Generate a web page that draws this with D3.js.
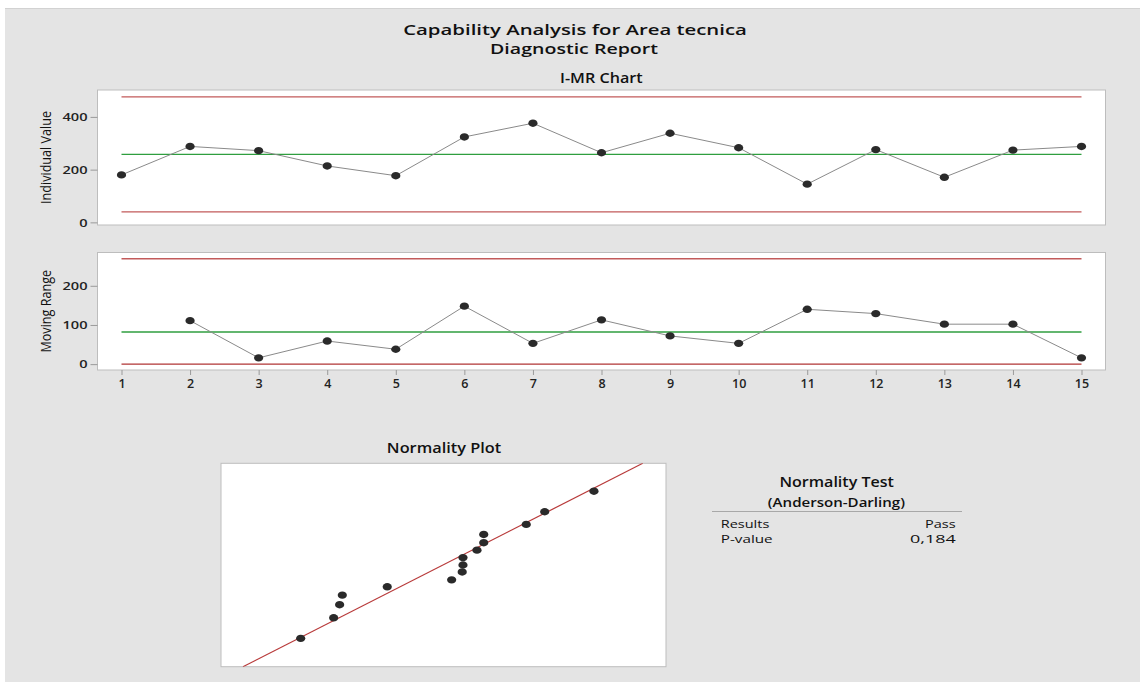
<!DOCTYPE html>
<html>
<head>
<meta charset="utf-8">
<script src="https://cdn.jsdelivr.net/npm/d3@7"></script>
<style>
  html, body { margin: 0; padding: 0; background: #ffffff; }
  svg { display: block; font-family: "Open Sans", "Noto Sans", sans-serif; }
</style>
</head>
<body>
<svg id="chart" width="1140" height="682"></svg>
<script>
// ---------- data ----------
const observationLabels = [1, 2, 3, 4, 5, 6, 7, 8, 9, 10, 11, 12, 13, 14, 15];
const individualValues = [180, 288, 272, 214, 177, 324, 376, 264, 338, 283, 145, 276, 171, 274, 288];
const movingRanges = [null, 111, 16, 59, 38, 148, 53, 113, 72, 53, 140, 129, 102, 102, 16];
const individualLimits = [39.6, 257.9, 476.2];   // LCL, CL, UCL
const movingRangeLimits = [0, 82, 269];           // LCL, CL, UCL
const individualTicks = [0, 200, 400];
const movingRangeTicks = [0, 100, 200];
const normalityValues = [145.3, 171.2, 175.9, 178.0, 213.3, 263.9, 272.2, 272.8, 272.8, 283.8, 289.1, 289.1, 322.5, 337.0, 375.7];
const normalityScores = [-1.68, -1.21, -0.91, -0.69, -0.50, -0.34, -0.16, 0, 0.17, 0.34, 0.51, 0.70, 0.93, 1.22, 1.69];
const normalFit = [257, 67.4];                    // mean, standard deviation
const testRows = [["Results", "Pass"], ["P-value", "0,184"]];

// ---------- drawing ----------
const svg = d3.select("#chart");
const RED = "#c25a5a", GREEN = "#2f9e3f", GREY = "#8a8a8a", DOT = "#2a2a2a";

// text whose glyphs are stretched horizontally to a given width (the reference is stretched)
function fitText(parent, str, x, y, width, anchor, size, weight) {
  const t = parent.append("text").attr("font-size", size).attr("font-weight", weight)
    .attr("fill", "#111").attr("text-anchor", anchor).text(str);
  const w = t.node().getComputedTextLength();
  const sx = w > 0 ? width / w : 1;
  t.attr("transform", `translate(${x},${y}) scale(${sx},1)`);
  return t;
}

svg.append("rect").attr("x", 5).attr("y", 8).attr("width", 1135).attr("height", 674).attr("fill", "#e4e4e4");
svg.append("line").attr("x1", 5).attr("x2", 1140).attr("y1", 8.5).attr("y2", 8.5).attr("stroke", "#d2d2d2");

fitText(svg, "Capability Analysis for Area tecnica", 575, 34.5, 344, "middle", 14.5, 600);
fitText(svg, "Diagnostic Report", 574, 53.5, 168, "middle", 14.5, 600);
fitText(svg, "I-MR Chart", 601.3, 83, 82.7, "middle", 13.5, 600);

const x = d3.scaleLinear().domain([0.65, 15.35]).range([97.5, 1105.5]);
const YLAB_SX = 1.27;

function controlPanel(top, bottom, domain, values, limits, ticks, title, showX) {
  const y = d3.scaleLinear().domain(domain).range([bottom, top]);
  const g = svg.append("g");
  g.append("rect").attr("x", x.range()[0]).attr("y", top)
    .attr("width", x.range()[1] - x.range()[0]).attr("height", bottom - top)
    .attr("fill", "#fff").attr("stroke", "#bdbdbd").attr("stroke-width", 1);

  // y axis
  const ya = g.append("g").attr("transform", `translate(${x.range()[0]},0)`)
    .call(d3.axisLeft(y).tickValues(ticks).tickSize(7).tickPadding(3));
  ya.select(".domain").remove();
  ya.selectAll("line").attr("stroke", "#9a9a9a");
  ya.selectAll("text").attr("font-size", 11.5).attr("font-weight", 600).attr("fill", "#222")
    .attr("font-family", "'Open Sans', sans-serif")
    .attr("x", -10 / YLAB_SX).attr("transform", `scale(${YLAB_SX},1)`);

  if (showX) {
    const xa = g.append("g").attr("transform", `translate(0,${bottom})`)
      .call(d3.axisBottom(x).tickValues(observationLabels).tickFormat(d3.format("d")).tickSize(5).tickPadding(4));
    xa.select(".domain").remove();
    xa.selectAll("line").attr("stroke", "#9a9a9a");
    xa.selectAll("text").attr("font-size", 12.5).attr("font-weight", 600).attr("fill", "#222")
      .attr("font-family", "'Open Sans', sans-serif");
  }

  g.append("text").attr("transform", `translate(51,${(top + bottom) / 2}) rotate(-90) scale(1,1.2)`)
    .attr("text-anchor", "middle").attr("font-size", 12.6).attr("fill", "#111").attr("font-weight", 500)
    .text(title);

  const x0 = x(observationLabels[0]), x1 = x(observationLabels[observationLabels.length - 1]);
  const lineColors = [limits[0] === 0 ? "#b03434" : RED, GREEN, RED];
  limits.forEach((v, i) => {
    g.append("line").attr("x1", x0).attr("x2", x1).attr("y1", y(v)).attr("y2", y(v))
      .attr("stroke", lineColors[i]).attr("stroke-width", 1.3);
  });

  const pts = observationLabels.map((o, i) => [o, values[i]]).filter(d => d[1] != null);
  g.append("path").datum(pts)
    .attr("d", d3.line().x(d => x(d[0])).y(d => y(d[1])))
    .attr("fill", "none").attr("stroke", GREY).attr("stroke-width", 1);
  g.selectAll("ellipse.pt").data(pts).join("ellipse").attr("class", "pt")
    .attr("cx", d => x(d[0])).attr("cy", d => y(d[1])).attr("rx", 4.6).attr("ry", 3.7).attr("fill", DOT);
}

controlPanel(90, 225, [-10, 502], individualValues, individualLimits, individualTicks, "Individual Value", false);
controlPanel(252.5, 370, [-15, 285], movingRanges, movingRangeLimits, movingRangeTicks, "Moving Range", true);

// ---------- normality plot ----------
const nx = d3.scaleLinear().domain([82.7, 432.3]).range([221, 666]);
const ny = d3.scaleLinear().domain([-2.33, 2.33]).range([666.7, 463.3]);
fitText(svg, "Normality Plot", 444, 453, 114.3, "middle", 13.5, 600);
svg.append("rect").attr("x", 221).attr("y", 463.3).attr("width", 445).attr("height", 203.4)
  .attr("fill", "#fff").attr("stroke", "#bdbdbd");
svg.append("clipPath").attr("id", "nclip").append("rect")
  .attr("x", 221).attr("y", 463.3).attr("width", 445).attr("height", 203.4);
const zEnds = ny.domain();
svg.append("line").attr("clip-path", "url(#nclip)")
  .attr("x1", nx(normalFit[0] + normalFit[1] * zEnds[0])).attr("y1", ny(zEnds[0]))
  .attr("x2", nx(normalFit[0] + normalFit[1] * zEnds[1])).attr("y2", ny(zEnds[1]))
  .attr("stroke", "#b83a3a").attr("stroke-width", 1.2);
svg.selectAll("ellipse.np").data(normalityValues.map((v, i) => [v, normalityScores[i]])).join("ellipse")
  .attr("class", "np").attr("cx", d => nx(d[0])).attr("cy", d => ny(d[1]))
  .attr("rx", 4.6).attr("ry", 3.7).attr("fill", DOT);

// ---------- normality test ----------
fitText(svg, "Normality Test", 836.7, 486.5, 114.7, "middle", 13.5, 600);
fitText(svg, "(Anderson-Darling)", 836.4, 506.5, 137.3, "middle", 11.8, 600);
svg.append("line").attr("x1", 712).attr("x2", 962).attr("y1", 511.5).attr("y2", 511.5)
  .attr("stroke", "#a8a8a8").attr("stroke-width", 1);
const leftWidths = [48.7, 52], rightWidths = [30.7, 45.7];
testRows.forEach((r, i) => {
  fitText(svg, r[0], 720.7, 527.5 + i * 15.5, leftWidths[i], "start", 11.3, 400);
  fitText(svg, r[1], 955.7, 527.5 + i * 15.5, rightWidths[i], "end", 11.3, 400);
});
</script>
</body>
</html>
